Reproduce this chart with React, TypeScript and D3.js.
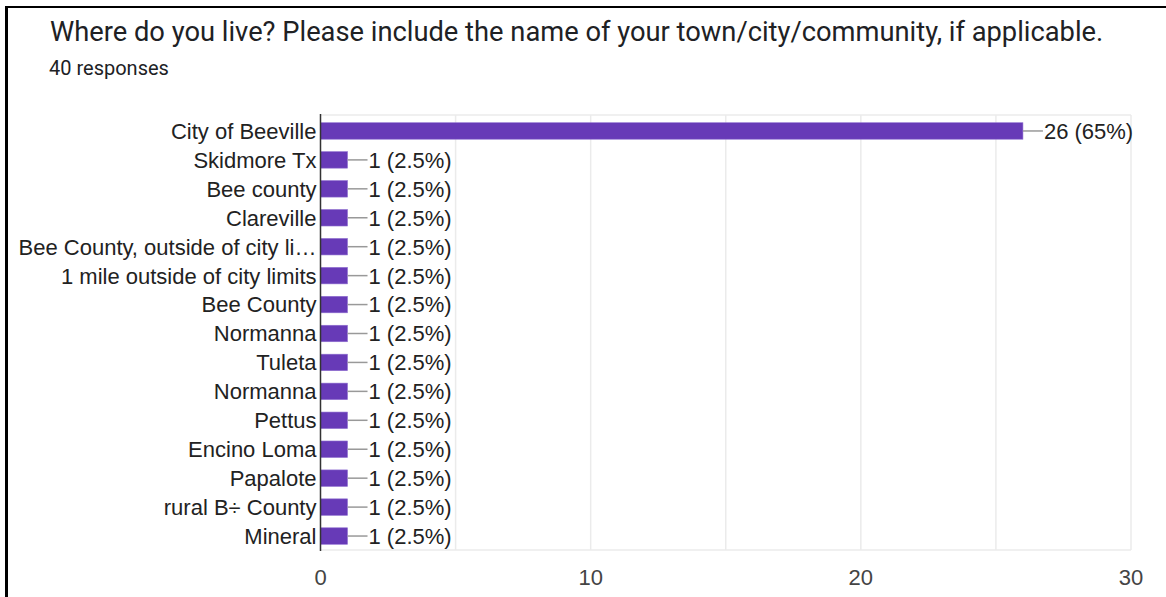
import React from "react";
import * as d3 from "d3";

const categories = [
  "City of Beeville",
  "Skidmore Tx",
  "Bee county",
  "Clareville",
  "Bee County, outside of city li…",
  "1 mile outside of city limits",
  "Bee County",
  "Normanna",
  "Tuleta",
  "Normanna",
  "Pettus",
  "Encino Loma",
  "Papalote",
  "rural B÷ County",
  "Mineral",
];
const counts = [26, 1, 1, 1, 1, 1, 1, 1, 1, 1, 1, 1, 1, 1, 1];
const percentLabels = ["65%", "2.5%", "2.5%", "2.5%", "2.5%", "2.5%", "2.5%", "2.5%", "2.5%", "2.5%", "2.5%", "2.5%", "2.5%", "2.5%", "2.5%"];
const majorTicks = [0, 10, 20, 30];
const gridTicks = [5, 10, 15, 20, 25, 30];
const title = "Where do you live? Please include the name of your town/city/community, if applicable.";
const subtitle = "40 responses";

const W = 1166;
const H = 597;
const left = 320.5;
const right = 1131;
const top = 115;
const bottom = 550;

export default function App() {
  const x = d3.scaleLinear().domain([0, 30]).range([left, right]);
  const idx = categories.map((_, i) => String(i));
  const y = d3.scaleBand().domain(idx).range([top + 1.5, bottom + 0.5]).paddingInner(0.43).paddingOuter(0.215);
  const font = "'Liberation Sans', Arial, sans-serif";
  const fs = 22;
  return (
    <svg width={W} height={H} style={{ position: "absolute", left: 0, top: 0, background: "#fff" }}>
      <rect x={0} y={0} width={W} height={H} fill="#fff" />
      {/* border */}
      <rect x={5} y={6} width={W - 5} height={2} fill="#000" />
      <rect x={5} y={6} width={3} height={H - 6} fill="#000" />
      <text x={50} y={40.5} fontFamily="Roboto, sans-serif" fontSize={27.3} fill="#202124">{title}</text>
      <text x={49} y={74.5} fontFamily="Roboto, sans-serif" fontSize={20} fill="#202124">{subtitle}</text>
      {/* frame */}
      <line x1={left} x2={right} y1={top} y2={top} stroke="#ebebeb" strokeWidth={1.5} />
      <line x1={left} x2={right} y1={bottom} y2={bottom} stroke="#ebebeb" strokeWidth={1.5} />
      {gridTicks.map((t) => (
        <line key={t} x1={x(t)} x2={x(t)} y1={top} y2={bottom} stroke="#ebebeb" strokeWidth={1.5} />
      ))}
      {counts.map((c, i) => {
        const yy = y(String(i))!;
        const bw = y.bandwidth();
        const cy = yy + bw / 2;
        const xe = x(c);
        return (
          <g key={i}>
            <rect x={x(0)} y={yy} width={xe - x(0)} height={bw} fill="#673ab7" stroke="#8f6fd0" strokeWidth={0.6} />
            <line x1={xe} x2={xe + 20} y1={cy} y2={cy} stroke="#999" strokeWidth={1.5} />
            <text x={xe + 21} y={cy} dy="0.36em" fontFamily={font} fontSize={fs} fill="#222">
              {`${c} (${percentLabels[i]})`}
            </text>
            <text x={left - 4} y={cy} dy="0.36em" textAnchor="end" fontFamily={font} fontSize={fs} fill="#222">
              {categories[i]}
            </text>
          </g>
        );
      })}
      <line x1={x(0)} x2={x(0)} y1={top - 1} y2={bottom + 1} stroke="#333" strokeWidth={1.5} />
      {majorTicks.map((t) => (
        <text key={t} x={x(t)} y={585} textAnchor="middle" fontFamily={font} fontSize={fs} fill="#444">
          {t}
        </text>
      ))}
    </svg>
  );
}
